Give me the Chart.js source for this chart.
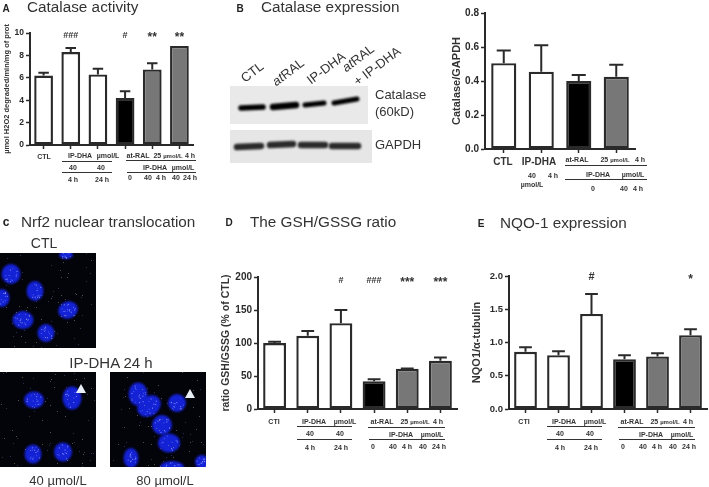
<!DOCTYPE html>
<html>
<head>
<meta charset="utf-8">
<title>Catalase and Nrf2 panels</title>
<script src="https://cdn.jsdelivr.net/npm/chart.js@4"></script>
<style>
  html, body { margin:0; padding:0; background:#fff; }
  #page { position:relative; width:709px; height:487px; overflow:hidden; font-family:"Liberation Sans", Arial, sans-serif; color:#333; filter:blur(0.35px); }
  #page canvas { position:absolute; }
  .t { position:absolute; white-space:nowrap; transform:translate(-50%,-50%); }
  .title { font-size:15.3px; transform:translateY(-50%); }
  .tag { font-size:10px; font-weight:bold; color:#222; }
  .fig { font-size:13px; }
  .n { font-size:7px; font-weight:bold; }
  .n small { font-size:6px; }
  .rule { position:absolute; height:1.4px; background:#333; }
</style>
</head>
<body>
<div id="page"><canvas id="art" width="709" height="487" style="left:0;top:0"></canvas></div>
<script>
/* ---- data ---- */
var BAR_FILLS6 = ['#fff', '#fff', '#fff', '#000', '#777', '#777'];
var BAR_FILLS4 = ['#fff', '#fff', '#000', '#777'];

var activityLabels = ['CTL', 'IP-DHA 40 4h', 'IP-DHA 40 24h', 'at-RAL', 'at-RAL + IP-DHA 40 4h', 'at-RAL + IP-DHA 40 24h'];
var activityValues = [6.2, 8.3, 6.3, 4.2, 6.75, 8.85];
var activityErrTop = [6.45, 8.65, 6.8, 4.8, 7.3, 8.85];
var activitySig    = ['', '###', '', '#', '**', '**'];
var activityTicks  = [0, 2, 4, 6, 8, 10];

var expressionLabels = ['CTL', 'IP-DHA 40 4h', 'at-RAL', 'at-RAL + IP-DHA 40 4h'];
var expressionValues = [0.505, 0.455, 0.40, 0.425];
var expressionErrTop = [0.58, 0.61, 0.435, 0.495];
var expressionSig    = ['', '', '', ''];
var expressionTicks  = [0, 0.2, 0.4, 0.6, 0.8];

var gshLabels = ['CTL', 'IP-DHA 40 4h', 'IP-DHA 40 24h', 'at-RAL', 'at-RAL + IP-DHA 40 4h', 'at-RAL + IP-DHA 40 24h'];
var gshValues = [100, 111, 130, 42, 61, 73];
var gshErrTop = [102, 118, 150, 45, 61.5, 78];
var gshSig    = ['', '', '#', '###', '***', '***'];
var gshTicks  = [0, 50, 100, 150, 200];

var nqoLabels = ['CTL', 'IP-DHA 40 4h', 'IP-DHA 40 24h', 'at-RAL', 'at-RAL + IP-DHA 40 4h', 'at-RAL + IP-DHA 40 24h'];
var nqoValues = [0.86, 0.81, 1.43, 0.75, 0.79, 1.11];
var nqoErrTop = [0.93, 0.87, 1.73, 0.81, 0.84, 1.20];
var nqoSig    = ['', '', '#', '', '', '*'];
var nqoTicks  = [0, 0.5, 1.0, 1.5, 2.0];

/* ---- error bars and significance marks ---- */
var markPlugin = {
  id: 'marks',
  afterDatasetsDraw: function (chart, args, opts) {
    var ctx = chart.ctx, y = chart.scales.y;
    var bars = chart.getDatasetMeta(0).data;
    ctx.save();
    ctx.strokeStyle = '#2a2a2a';
    ctx.lineWidth = 2;
    bars.forEach(function (bar, i) {
      var top = y.getPixelForValue(opts.errTop[i]);
      var half = bar.width * 0.28;
      if (opts.errTop[i] > chart.data.datasets[0].data[i]) {
        ctx.beginPath();
        ctx.moveTo(bar.x, bar.y);
        ctx.lineTo(bar.x, top);
        ctx.moveTo(bar.x - half, top);
        ctx.lineTo(bar.x + half, top);
        ctx.stroke();
      }
      var mark = opts.sig[i];
      if (mark) {
        var stars = mark.charAt(0) === '*';
        ctx.fillStyle = '#333';
        ctx.font = 'bold ' + (stars ? 12 : opts.hashSize) + 'px "Liberation Sans", Arial, sans-serif';
        ctx.textAlign = 'center';
        ctx.textBaseline = 'middle';
        ctx.fillText(mark, bar.x, y.getPixelForValue(opts.sigLevel) + (stars ? 2 : 0));
      }
    });
    ctx.restore();
  }
};

function addBarChart(c) {
  var page = document.getElementById('page');
  var cv = document.createElement('canvas');
  cv.width = c.box[2];
  cv.height = c.box[3];
  cv.style.left = c.box[0] + 'px';
  cv.style.top = c.box[1] + 'px';
  page.appendChild(cv);

  var tickFont = { family: '"Liberation Sans", Arial, sans-serif', size: c.tickSize, weight: 'bold' };
  new Chart(cv, {
    type: 'bar',
    data: {
      labels: c.labels,
      datasets: [{
        data: c.values,
        backgroundColor: c.fills,
        borderColor: '#2a2a2a',
        borderWidth: 2.4,
        borderSkipped: false,
        categoryPercentage: 1,
        barPercentage: c.barPct
      }]
    },
    options: {
      responsive: false,
      animation: false,
      layout: { padding: { top: c.padTop, right: c.right, left: 0, bottom: 0 } },
      plugins: {
        legend: { display: false },
        tooltip: { enabled: false },
        marks: { errTop: c.errTop, sig: c.sig, sigLevel: c.sigLevel, hashSize: c.hashSize || 9 }
      },
      scales: {
        x: {
          ticks: { display: false },
          grid: { offset: false, drawOnChartArea: false, tickLength: 4, tickColor: '#2a2a2a', tickWidth: 1.5 },
          border: { color: '#2a2a2a', width: 2 },
          afterFit: function (s) { s.height = 16; }
        },
        y: {
          min: c.ticks[0],
          max: c.ticks[c.ticks.length - 1],
          afterBuildTicks: function (s) { s.ticks = c.ticks.map(function (v) { return { value: v }; }); },
          ticks: { color: '#2a2a2a', font: tickFont, padding: 2, callback: c.fmt },
          grid: { drawOnChartArea: false, tickLength: 4, tickColor: '#2a2a2a', tickWidth: 1.5 },
          border: { color: '#2a2a2a', width: 2 },
          title: {
            display: true,
            text: c.yTitle,
            color: '#333',
            font: { family: tickFont.family, size: c.titleSize, weight: 'bold' },
            padding: { top: c.titlePad, bottom: 0 }
          },
          afterFit: function (s) { s.width = c.axisW; }
        }
      }
    },
    plugins: [markPlugin]
  });
}

function fixed1(v) { return v.toFixed(1); }
function plain(v) { return String(v); }

addBarChart({
  box: [0, 10, 200, 151], padTop: 23, labels: activityLabels, values: activityValues, errTop: activityErrTop,
  sig: activitySig, sigLevel: 9.8, ticks: activityTicks, fills: BAR_FILLS6, barPct: 0.69, fmt: plain,
  yTitle: 'µmol H2O2 degraded/min/mg of prot', tickSize: 8.5, titleSize: 7.5, titlePad: 2, axisW: 30, right: 7
});
addBarChart({
  box: [450, 0, 259, 165], padTop: 13, labels: expressionLabels, values: expressionValues, errTop: expressionErrTop,
  sig: expressionSig, sigLevel: 0.8, ticks: expressionTicks, fills: BAR_FILLS4, barPct: 0.67, fmt: fixed1,
  yTitle: 'Catalase/GAPDH', tickSize: 10, titleSize: 11, titlePad: 0, axisW: 35, right: 74
});
addBarChart({
  box: [220, 255, 240, 170], padTop: 22, labels: gshLabels, values: gshValues, errTop: gshErrTop,
  sig: gshSig, sigLevel: 195, ticks: gshTicks, fills: BAR_FILLS6, barPct: 0.69, fmt: plain,
  yTitle: 'ratio GSH/GSSG (% of CTL)', tickSize: 10, titleSize: 10.5, titlePad: 0, axisW: 38, right: 3
});
addBarChart({
  box: [470, 255, 239, 170], padTop: 21, labels: nqoLabels, values: nqoValues, errTop: nqoErrTop,
  sig: nqoSig, sigLevel: 1.98, hashSize: 11, ticks: nqoTicks, fills: BAR_FILLS6, barPct: 0.69, fmt: fixed1,
  yTitle: 'NQO1/α-tubulin', tickSize: 9.5, titleSize: 11, titlePad: 0, axisW: 39, right: 2
});

/* ---- text and rules around the charts ---- */
function text(html, x, y, cls, style) {
  var el = document.createElement('div');
  el.className = 't ' + (cls || '');
  el.innerHTML = html;
  el.style.left = x + 'px';
  el.style.top = y + 'px';
  if (style) el.style.cssText += style;
  document.getElementById('page').appendChild(el);
}
function rule(x1, x2, y) {
  var el = document.createElement('div');
  el.className = 'rule';
  el.style.left = x1 + 'px';
  el.style.width = (x2 - x1) + 'px';
  el.style.top = y + 'px';
  document.getElementById('page').appendChild(el);
}

text('A', 6, 8, 'tag');
text('Catalase activity', 27, 7, 'title');
text('B', 240, 8, 'tag');
text('Catalase expression', 261, 7, 'title');
text('c', 6, 222, 'tag', 'font-size:12px;');
text('Nrf2 nuclear translocation', 21, 222, 'title');
text('D', 229, 222, 'tag');
text('The GSH/GSSG ratio', 250, 222, 'title');
text('E', 481, 223, 'tag');
text('NQO-1 expression', 500, 223, 'title');

/* panel A table */
[['CTL', 44, 156], ['IP-DHA', 80, 155], ['µmol/L', 108, 155], ['40', 73, 167], ['40', 101, 167],
 ['4 h', 73, 179], ['24 h', 102, 179], ['at-RAL', 138, 155], ['25 <small>µmol/L</small>', 168, 155], ['4 h', 190, 155],
 ['IP-DHA', 155, 167], ['µmol/L', 183, 167], ['0', 130, 177], ['40', 148, 177], ['4 h', 161, 177], ['40', 176, 177], ['24 h', 190, 177]
].forEach(function (r) { text(r[0], r[1], r[2], 'n'); });
rule(62, 112, 160.5); rule(62, 112, 171.5); rule(126, 196, 160); rule(127, 196, 171.5);

/* panel B table */
text('CTL', 503, 161, 'n', 'font-size:10px;');
text('IP-DHA', 539, 161, 'n', 'font-size:10px;');
[['at-RAL', 577, 159], ['25 <small>µmol/L</small>', 615, 159], ['4 h', 640, 159], ['IP-DHA', 598, 174], ['µmol/L', 633, 174],
 ['0', 593, 188], ['40', 624, 188], ['4 h', 638, 188], ['40', 532, 175], ['4 h', 553, 175], ['µmol/L', 532, 184]
].forEach(function (r) { text(r[0], r[1], r[2], 'n'); });
rule(565, 647, 164.5); rule(565, 647, 179);

/* panels D and E share one table layout */
function doseTable(dx) {
  [['CTI', 274, 421], ['IP-DHA', 314, 421], ['µmol/L', 345, 421], ['40', 310, 433], ['40', 340, 433],
   ['4 h', 310, 447], ['24 h', 341, 447], ['at-RAL', 382, 421], ['25 <small>µmol/L</small>', 415, 421], ['4 h', 438, 421],
   ['IP-DHA', 401, 434], ['µmol/L', 432, 434], ['0', 373, 446], ['40', 393, 446], ['4 h', 407, 446], ['40', 423, 446], ['24 h', 439, 446]
  ].forEach(function (r) { text(r[0], r[1] + dx, r[2], 'n'); });
  rule(297 + dx, 352 + dx, 426); rule(297 + dx, 352 + dx, 439);
  rule(368 + dx, 445 + dx, 427); rule(369 + dx, 445 + dx, 439);
}
doseTable(0);
doseTable(250);

/* blot labels */
var SLANT = 'transform:translate(-50%,-50%) rotate(-37deg);';
text('CTL', 252, 72, 'fig', SLANT);
text('<i>at</i>RAL', 288, 72, 'fig', SLANT);
text('IP-DHA', 326, 68, 'fig', SLANT);
text('<i>at</i>RAL', 358, 58, 'fig', SLANT);
text('+ IP-DHA', 377, 66, 'fig', SLANT);
text('Catalase', 375, 94, 'fig', 'transform:translateY(-50%);');
text('(60kD)', 375, 111, 'fig', 'transform:translateY(-50%);');
text('GAPDH', 375, 144, 'fig', 'transform:translateY(-50%);');

/* micrograph labels */
text('CTL', 44, 243, 'fig', 'font-size:14px;');
text('IP-DHA 24 h', 111, 362, 'fig', 'font-size:15px;');
text('40 µmol/L', 58, 480, 'fig');
text('80 µmol/L', 165, 480, 'fig');

/* ---- western blots and micrographs (pictures, not chart data) ---- */
function drawBlots(ctx) {
  ctx.fillStyle = '#e9e9e9';
  ctx.fillRect(230, 86, 138, 38);
  ctx.fillStyle = '#e6e6e6';
  ctx.fillRect(230, 130, 142, 33);
  ctx.save();
  ctx.filter = 'blur(1.2px)';
  ctx.strokeStyle = '#000';
  ctx.lineCap = 'round';
  [[241, 108, 263, 107, 5.5], [273, 107, 296, 105, 6.5], [305, 105, 324, 103, 5], [334, 103, 357, 99, 5]].forEach(function (b) {
    ctx.lineWidth = b[4];
    ctx.beginPath(); ctx.moveTo(b[0], b[1]); ctx.lineTo(b[2], b[3]); ctx.stroke();
  });
  ctx.strokeStyle = '#2a2a2a';
  [[237, 147, 261, 146], [270, 145, 293, 144], [301, 145, 325, 145], [332, 146, 358, 146]].forEach(function (b) {
    ctx.lineWidth = 6.5;
    ctx.beginPath(); ctx.moveTo(b[0], b[1]); ctx.lineTo(b[2], b[3]); ctx.stroke();
  });
  ctx.restore();
}

function drawCells(ctx, x, y, nuclei, arrow, seed) {
  var w = 96, h = 95;
  var s = seed;
  function next(n) { s = (s * 16807) % 2147483647; return s % n; }

  ctx.save();
  ctx.beginPath(); ctx.rect(x, y, w, h); ctx.clip();
  ctx.fillStyle = '#03030a';
  ctx.fillRect(x, y, w, h);
  ctx.save();
  ctx.filter = 'blur(0.8px)';
  ctx.fillStyle = '#1422d6';
  nuclei.forEach(function (n) {
    ctx.beginPath();
    ctx.ellipse(n[0], n[1], n[2], n[3], n[4] || 0, 0, Math.PI * 2);
    ctx.fill();
  });
  ctx.restore();
  /* dim specks on the background */
  for (var i = 0; i < 70; i++) {
    ctx.fillStyle = i % 2 ? 'rgba(200,200,150,.4)' : 'rgba(120,130,220,.35)';
    ctx.fillRect(x + next(w), y + next(h), 1, 1);
  }
  /* bright foci inside the nuclei */
  nuclei.forEach(function (n) {
    for (var j = 0; j < 16; j++) {
      var dx = (next(160) - 80) / 100 * n[2];
      var dy = (next(160) - 80) / 100 * n[3];
      if (dx * dx / (n[2] * n[2]) + dy * dy / (n[3] * n[3]) < 0.7) {
        ctx.fillStyle = j % 2 ? 'rgba(170,180,255,.75)' : 'rgba(90,110,255,.8)';
        ctx.fillRect(n[0] + dx, n[1] + dy, 1, 1);
      }
    }
  });
  ctx.restore();
  if (arrow) {
    ctx.save();
    ctx.filter = 'blur(0.5px)';
    ctx.fillStyle = '#e8eef5';
    ctx.beginPath();
    ctx.moveTo(arrow[0], arrow[1] - 5);
    ctx.lineTo(arrow[0] - 5, arrow[1] + 4);
    ctx.lineTo(arrow[0] + 5, arrow[1] + 4);
    ctx.closePath();
    ctx.fill();
    ctx.restore();
  }
}

var art = document.getElementById('art').getContext('2d');
drawBlots(art);
drawCells(art, 0, 253, [[11, 274, 9.5, 10], [35, 291, 8.5, 10], [2, 298, 7.5, 9], [23, 320, 10.5, 9], [68, 310, 10, 8.5, -0.35], [46, 333, 8.5, 9], [66, 255, 7, 4]], null, 7919);
drawCells(art, 0, 372, [[34, 400, 10, 8.5], [72, 398, 9.5, 11.5], [33, 454, 8.5, 9.5], [63, 452, 9, 9.5]], [81, 389], 104729);
drawCells(art, 110, 372, [[138, 394, 9.5, 11.5], [149, 406, 12.5, 10, -0.6], [162, 425, 10, 10], [169, 443, 11, 9.5], [177, 403, 9, 9], [131, 458, 7.5, 10], [172, 467, 12, 6], [202, 462, 7, 7]], [190, 394], 1299709);
</script>
</body>
</html>
